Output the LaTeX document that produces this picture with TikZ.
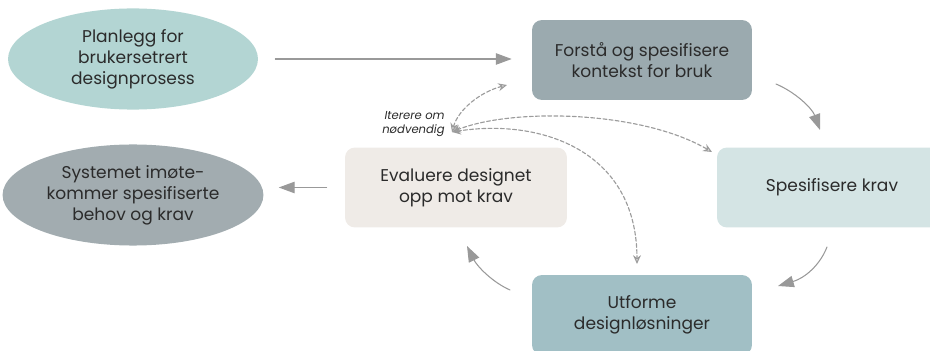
\documentclass[tikz,border=0pt]{standalone}
\usepackage{fontspec}
\setmainfont{Poppins}
\usetikzlibrary{arrows.meta,shapes.geometric}

\definecolor{ink}{HTML}{2B2B2B}
\definecolor{arrowgray}{HTML}{999999}
\definecolor{dashgray}{HTML}{9C9C9C}
\definecolor{planfill}{HTML}{B3D5D3}
\definecolor{goalfill}{HTML}{A2ACB0}
\definecolor{contextfill}{HTML}{9BAAAF}
\definecolor{reqfill}{HTML}{D4E4E4}
\definecolor{evalfill}{HTML}{EFEBE7}
\definecolor{designfill}{HTML}{A1BFC5}

\begin{document}
\begin{tikzpicture}[x=0.02cm,y=-0.02cm,line cap=round]
% Page frame (pixel units, y downwards)
\useasboundingbox (0,0) rectangle (930,351);

% Styles
\tikzstyle{txt}=[text=ink,align=center,font=\fontsize{9.7}{12}\selectfont]
\tikzstyle{stage}=[txt,rectangle,rounded corners=0.2cm,minimum width=4.4cm,minimum height=1.6cm]
\tikzstyle{oval}=[txt,ellipse,minimum width=5cm,minimum height=1.96cm]
\tikzstyle{flow}=[draw=arrowgray,line width=0.6pt,-{Triangle[length=9pt,width=6.5pt]}]
\tikzstyle{iterate}=[draw=dashgray,line width=0.65pt,dash pattern=on 2.2pt off 1.3pt,
  {Stealth[open,length=5pt,width=4.5pt]}-{Stealth[open,length=5pt,width=4.5pt]}]

% Start and end ovals.
\node[oval,fill=planfill] (plan) at (133,59) {Planlegg for\\brukersetrert\\designprosess};
\node[oval,fill=goalfill] (system) at (133,195) {Systemet imøte-\\kommer spesifiserte\\behov og krav};

% The four activities.
\node[stage,fill=contextfill] (forsta) at (642,60) {Forstå og spesifisere\\kontekst for bruk};
\node[stage,fill=reqfill,minimum width=4.6cm] (krav) at (832,187.5) {Spesifisere krav};
\node[stage,fill=designfill] (utforme) at (642,315) {Utforme\\designløsninger};
\node[stage,fill=evalfill,minimum width=4.44cm] (evaluere) at (456,187.5) {Evaluere designet\\opp mot krav};

% Iteration label.
\node[text=ink,align=right,inner sep=0pt,anchor=east,font=\fontsize{6.6}{7.6}\selectfont\itshape]
  (iterlabel) at (445,124) {Iterere om\\nødvendig};

% Coordinates for the free arrow ends.
\coordinate (c1a) at (776,84);	% leaves Forstå
\coordinate (c1b) at (820,130);	% reaches Spesifisere
\coordinate (c2a) at (827,247);	% leaves Spesifisere
\coordinate (c2b) at (778,286);	% reaches Utforme
\coordinate (c3a) at (510,290);	% leaves Utforme
\coordinate (c3b) at (467,246);	% reaches Evaluere
\coordinate (it) at (452,132);	% iteration hub
\coordinate (it1) at (507,85);
\coordinate (it2) at (712,152);
\coordinate (it3) at (637,264);

% Straight arrows.
\draw[flow,shorten <=0.34cm,shorten >=0.4cm] (plan) -- (plan -| forsta.west);
\draw[flow,shorten <=0.36cm,shorten >=0.3cm] (evaluere.west) -- (system.east |- evaluere.west);

% The cycle.
\draw[flow] (c1a) .. controls (795,92) and (812,108) .. (c1b);
\draw[flow] (c2a) .. controls (820,265) and (805,278) .. (c2b);
\draw[flow] (c3a) .. controls (492,282) and (477,266) .. (c3b);

% Iterate if needed.
\draw[iterate] (it) .. controls (458,110) and (480,92) .. (it1);
\draw[iterate] (it) .. controls (510,108) and (640,110) .. (it2);
\draw[iterate] (it) .. controls (540,118) and (637,150) .. (it3);
\end{tikzpicture}
\end{document}
